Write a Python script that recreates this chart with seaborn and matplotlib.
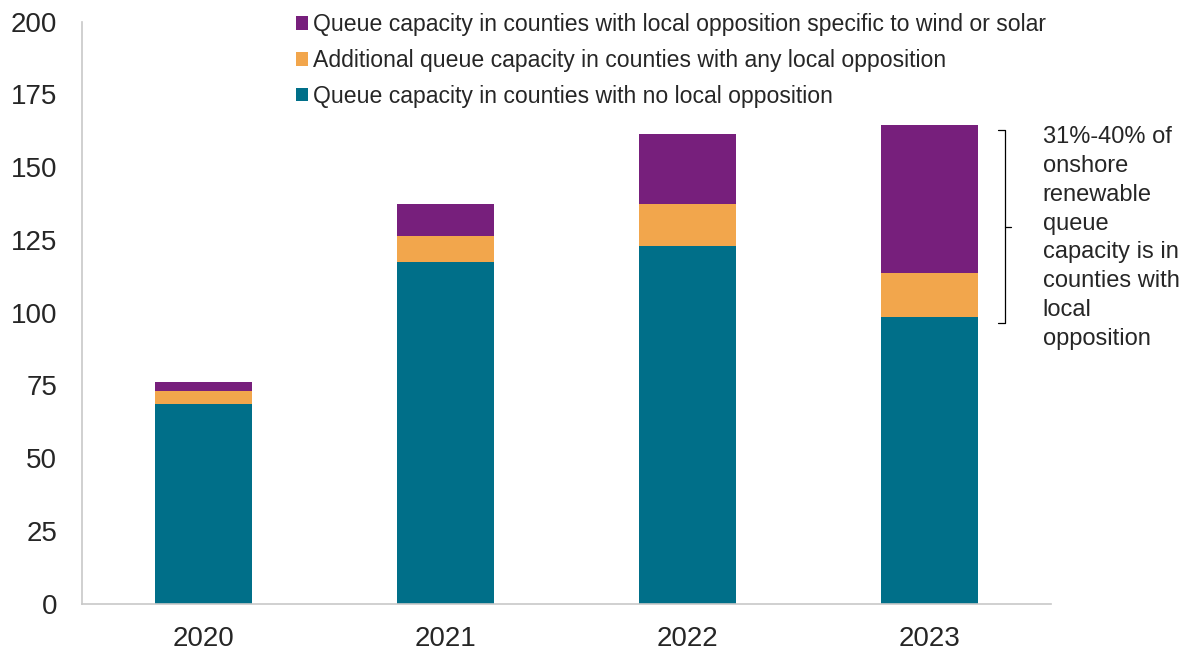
import matplotlib
matplotlib.use("Agg")
import matplotlib.pyplot as plt
from matplotlib.patches import Patch
import seaborn as sns
import pandas as pd

years = ["2020", "2021", "2022", "2023"]
no_opposition = [68.7, 117.5, 123.0, 98.4]
any_opposition_extra = [4.5, 8.9, 14.2, 15.2]
wind_solar_opposition = [2.9, 10.8, 24.3, 50.8]

labels = [
    "Queue capacity in counties with no local opposition",
    "Additional queue capacity in counties with any local opposition",
    "Queue capacity in counties with local opposition specific to wind or solar",
]
colors = ["#006F89", "#F2A64C", "#771F7C"]

note = ("31%-40% of\nonshore\nrenewable\nqueue\ncapacity is in\n"
        "counties with\nlocal\nopposition")

df = pd.DataFrame({
    "year": years,
    "none": no_opposition,
    "any": any_opposition_extra,
    "specific": wind_solar_opposition,
})

sns.set_style("white")
plt.rcParams["font.family"] = ["Liberation Sans", "DejaVu Sans"]

fig = plt.figure(figsize=(11.84, 6.52), dpi=100)
ax = fig.add_axes([0.0693, 0.074, 0.8184, 0.8927])

bottom = [0.0] * len(years)
for col, color in zip(["none", "any", "specific"], colors):
    sns.barplot(data=df, x="year", y=col, color=color, bottom=bottom,
                width=0.4, ax=ax, saturation=1, edgecolor="none")
    bottom = [b + v for b, v in zip(bottom, df[col])]

ax.set_xlim(-0.5, 3.5)
ax.set_ylim(0, 200)
ax.set_yticks(range(0, 201, 25))
ax.set_xlabel("")
ax.set_ylabel("")
ax.tick_params(axis="y", length=0, pad=18, labelsize=20)
ax.tick_params(axis="x", length=0, pad=16, labelsize=20)
for side in ["top", "right"]:
    ax.spines[side].set_visible(False)
for side in ["left", "bottom"]:
    ax.spines[side].set_color("#C8C8C8")
    ax.spines[side].set_linewidth(1.2)

# Bracket spanning the 2023 opposition share
bx0, bx1, bx2 = 3.279, 3.312, 3.333
ytop, ybot, ymid = 162.8, 96.6, 129.5
ax.plot([bx0, bx1, bx1, bx0], [ytop, ytop, ybot, ybot], color="black",
        lw=0.9, clip_on=False)
ax.plot([bx1, bx2], [ymid, ymid], color="black", lw=0.9, clip_on=False)
ax.text(3.466, 164.3, note, ha="left", va="top", fontsize=17.0,
        linespacing=1.41, clip_on=False)

handles = [Patch(facecolor=c, edgecolor="none") for c in colors][::-1]
ax.legend(handles, labels[::-1], loc="upper left",
          bbox_to_anchor=(0.211, 1.0306), frameon=False, fontsize=16.6,
          handlelength=0.52, handleheight=0.52, handletextpad=0.22,
          labelspacing=0.56, borderaxespad=0)

fig.savefig("out.png", dpi=100)
